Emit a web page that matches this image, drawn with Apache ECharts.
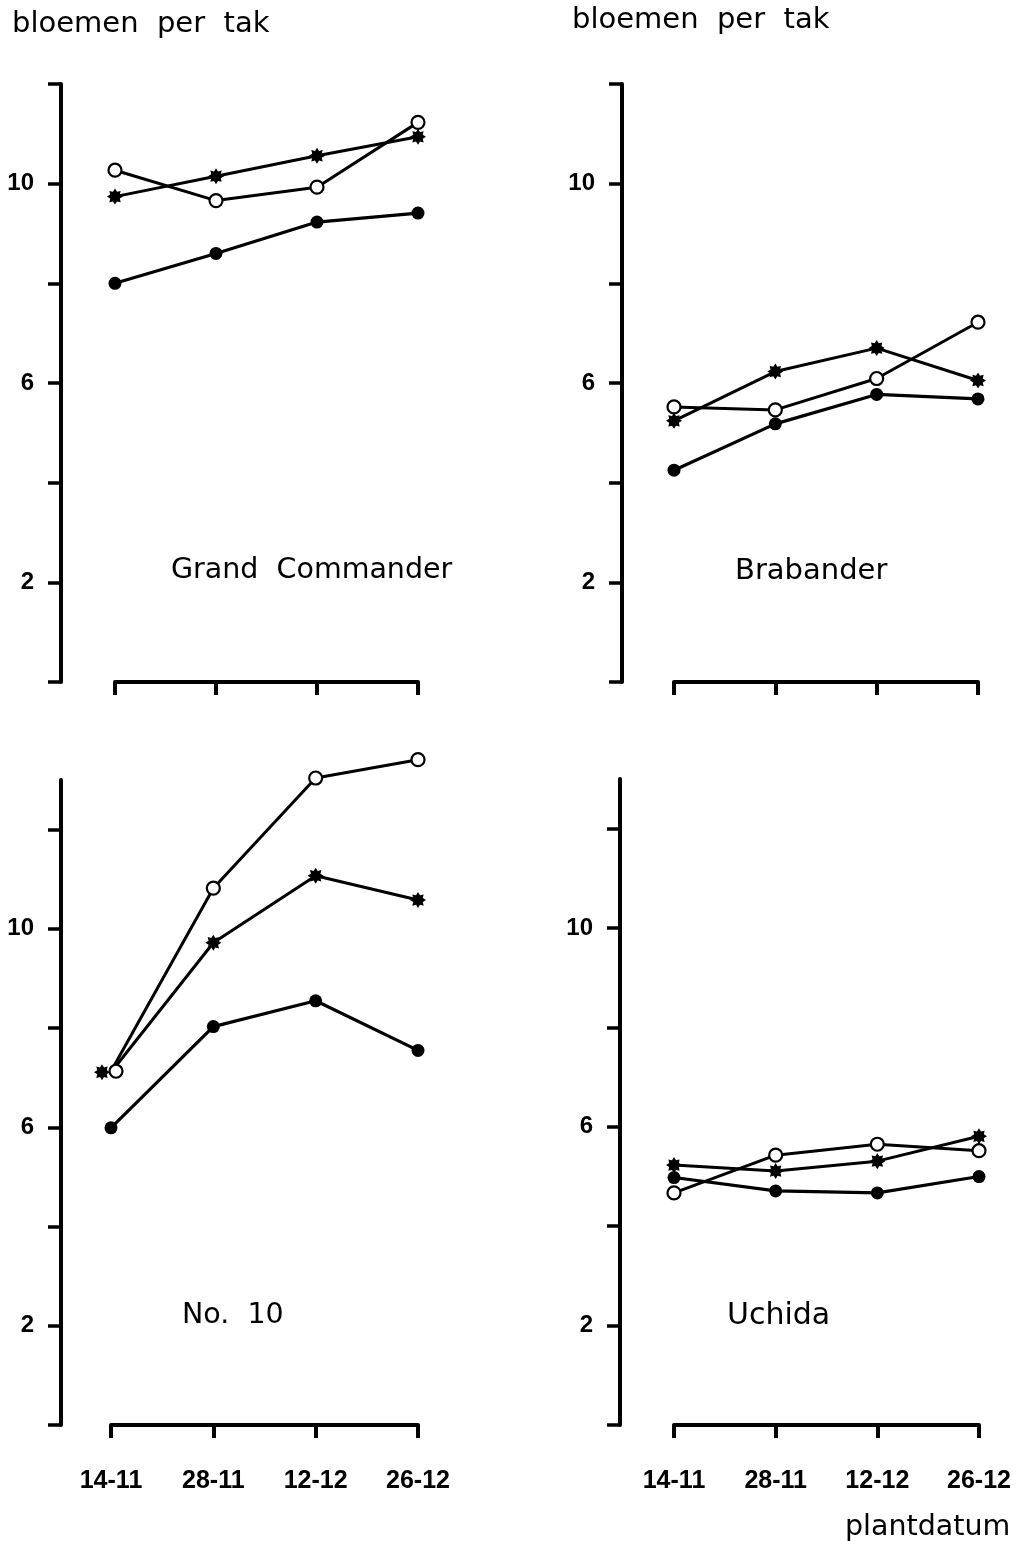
<!DOCTYPE html>
<html>
<head>
<meta charset="utf-8">
<script src="https://cdn.jsdelivr.net/npm/echarts@6/dist/echarts.min.js"></script>
<style>
html,body{margin:0;padding:0;background:#fff;}
#chart{width:1017px;height:1541px;}
</style>
</head>
<body>
<div id="chart"></div>
<script>
// ---- data ----
var categories = ['14-11', '28-11', '12-12', '26-12'];
var yTickValues = [0, 2, 4, 6, 8, 10, 12];
var yLabelValues = [2, 6, 10];
var panelNames = ['Grand  Commander', 'Brabander', 'No.  10', 'Uchida'];

// Grand Commander
var gcOpen   = [10.27, 9.66, 9.93, 11.23];
var gcStar   = [9.74, 10.15, 10.56, 10.94];
var gcFilled = [8.00, 8.60, 9.23, 9.41];
// Brabander
var brOpen   = [5.52, 5.46, 6.09, 7.22];
var brStar   = [5.24, 6.23, 6.70, 6.05];
var brFilled = [4.25, 5.18, 5.77, 5.68];
// No. 10
var n10Open   = [7.13, 10.82, 13.04, 13.41];
var n10Star   = [7.11, 9.72, 11.07, 10.58];
var n10Filled = [5.99, 8.03, 8.55, 7.55];
// Uchida
var ucOpen   = [4.67, 5.43, 5.65, 5.52];
var ucStar   = [5.23, 5.11, 5.31, 5.81];
var ucFilled = [4.98, 4.71, 4.67, 5.00];

// ---- layout ----
var grids = [
  {left: 115, top: 84,  width: 303, height: 598},
  {left: 674, top: 84,  width: 304, height: 598},
  {left: 111, top: 780, width: 307, height: 645},
  {left: 674, top: 779, width: 305, height: 646}
];
var yOffsets = [54, 52, 50, 54];
var yMax = [12, 12, 13, 13];

var starPath = 'path://M20 10 L16 12.5 L17.07 17.07 L12.5 16 L10 20 L7.5 16 L2.93 17.07 L4 12.5 L0 10 L4 7.5 L2.93 2.93 L7.5 4 L10 0 L12.5 4 L17.07 2.93 L16 7.5 Z';

var xAxes = [], yAxes = [], series = [];
for (var i = 0; i < 4; i++) {
  var bottom = i >= 2;
  xAxes.push({
    type: 'category', gridIndex: i, data: categories, boundaryGap: false,
    axisLine: {lineStyle: {color: '#000', width: 4}},
    axisTick: {show: true, length: 13, inside: false, lineStyle: {color: '#000', width: 4}},
    axisLabel: {show: bottom, color: '#000', fontFamily: 'Liberation Sans', fontWeight: 'bold',
                fontSize: 25, margin: 44},
    splitLine: {show: false}
  });
  yAxes.push({
    type: 'value', gridIndex: i, min: 0, max: yMax[i], interval: 2, offset: yOffsets[i],
    axisLine: {show: true, lineStyle: {color: '#000', width: 4}},
    axisTick: {show: true, length: 13, inside: false, customValues: yTickValues,
               lineStyle: {color: '#000', width: 3.5}},
    axisLabel: {show: true, customValues: yLabelValues, color: '#000', fontFamily: 'Liberation Sans',
                fontWeight: 'bold', fontSize: 24, margin: 27},
    splitLine: {show: false}
  });
}

var panelData = [
  [gcOpen, gcStar, gcFilled],
  [brOpen, brStar, brFilled],
  [n10Open, n10Star, n10Filled],
  [ucOpen, ucStar, ucFilled]
];

function mkData(arr, offsets) {
  return arr.map(function (v, k) {
    if (offsets && offsets[k]) return {value: v, symbolOffset: offsets[k]};
    return v;
  });
}

for (var p = 0; p < 4; p++) {
  var d = panelData[p];
  var offStar = p === 2 ? [[-9, 0]] : null;
  var offOpen = p === 2 ? [[5, 0]] : null;
  series.push({
    type: 'line', xAxisIndex: p, yAxisIndex: p, clip: false, data: mkData(d[2]),
    symbol: 'circle', symbolSize: 13, z: 3,
    lineStyle: {color: '#000', width: 3.2},
    itemStyle: {color: '#000'}
  });
  series.push({
    type: 'line', xAxisIndex: p, yAxisIndex: p, clip: false, data: mkData(d[1], offStar),
    symbol: starPath, symbolSize: 16, z: 4,
    lineStyle: {color: '#000', width: 3},
    itemStyle: {color: '#000'}
  });
  series.push({
    type: 'line', xAxisIndex: p, yAxisIndex: p, clip: false, data: mkData(d[0], offOpen),
    symbol: 'circle', symbolSize: 13, z: 5,
    lineStyle: {color: '#000', width: 3},
    itemStyle: {color: '#fff', borderColor: '#000', borderWidth: 2.2}
  });
}

function txt(s, x, y, size) {
  return {type: 'text', x: x, y: y, silent: true,
          style: {text: s, fill: '#000', font: (size || 29) + 'px "DejaVu Sans"',
                  textAlign: 'left', textVerticalAlign: 'middle'}};
}

var chart = echarts.init(document.getElementById('chart'), null, {renderer: 'canvas'});
chart.setOption({
  animation: false,
  backgroundColor: '#fff',
  grid: grids,
  xAxis: xAxes,
  yAxis: yAxes,
  series: series,
  graphic: [
    txt('bloemen  per  tak', 12, 24),
    txt('bloemen  per  tak', 572, 20),
    txt(panelNames[0], 171, 571, 28.5),
    txt(panelNames[1], 735, 571, 29),
    txt(panelNames[2], 182, 1316, 28.5),
    txt(panelNames[3], 727, 1316, 30),
    txt('plantdatum', 845, 1528, 28.5)
  ]
});
</script>
</body>
</html>
